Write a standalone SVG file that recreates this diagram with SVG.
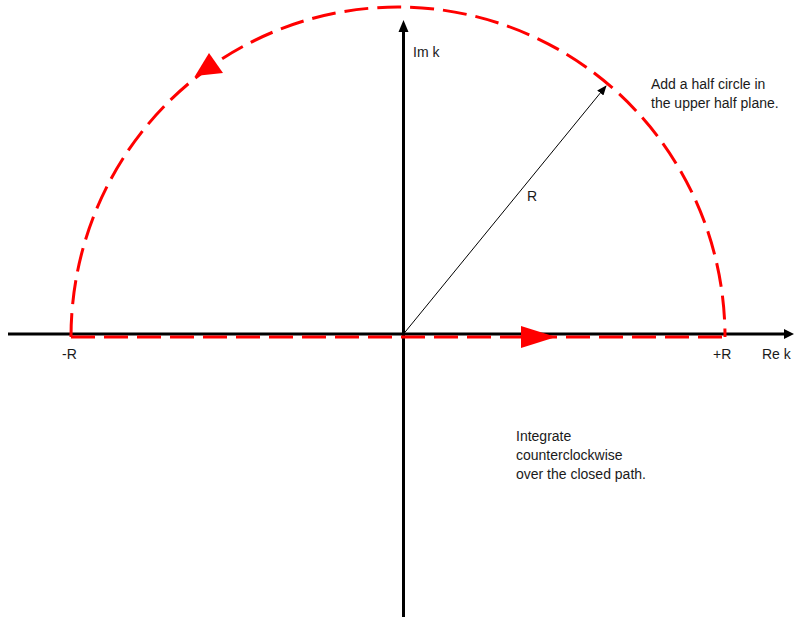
<svg xmlns="http://www.w3.org/2000/svg" width="794" height="621" viewBox="0 0 794 621">
<style>
.axis{stroke:#000;stroke-width:3;fill:none}
.path{stroke:#f00;stroke-width:3;fill:none;stroke-dasharray:24 9}
.lbl{font-family:"Liberation Sans",Arial,sans-serif;font-size:14px;fill:#1a1a1a}
</style>
<defs>
<marker id="thin" markerWidth="10" markerHeight="8" refX="9" refY="4" orient="auto" markerUnits="userSpaceOnUse">
<path d="M0,0 L10,4 L0,8 Z" fill="#000"/>
</marker>
</defs>
<rect width="794" height="621" fill="#fff"/>
<g id="axes">
<line class="axis" x1="8" y1="334" x2="784" y2="334"/>
<path d="M784,329 L794,334 L784,339 Z" fill="#000"/>
<line class="axis" x1="403.5" y1="617" x2="403.5" y2="31"/>
<path d="M398.5,32 L403.5,20 L408.5,32 Z" fill="#000"/>
</g>
<g id="contour">
<path class="path" d="M71,337 L725,337"/>
<path class="path" d="M71,337 A327,330 0 0 1 725,337"/>
<path d="M521,326 L556,337 L521,348 Z" fill="#f00"/>
<path d="M209,53 L195,76 L223,73 Z" fill="#f00"/>
</g>
<g id="connectors">
<line x1="403.5" y1="334" x2="606" y2="86" stroke="#000" stroke-width="1" marker-end="url(#thin)"/>
</g>
<g id="labels">
<text class="lbl" x="413" y="57">Im k</text>
<text class="lbl" x="527" y="201">R</text>
<text class="lbl" x="62" y="359">-R</text>
<text class="lbl" x="713" y="359">+R</text>
<text class="lbl" x="762" y="359">Re k</text>
<text class="lbl" x="651" y="89">Add a half circle in</text>
<text class="lbl" x="651" y="108">the upper half plane.</text>
<text class="lbl" x="516" y="441">Integrate</text>
<text class="lbl" x="516" y="460">counterclockwise</text>
<text class="lbl" x="516" y="479">over the closed path.</text>
</g>
</svg>
